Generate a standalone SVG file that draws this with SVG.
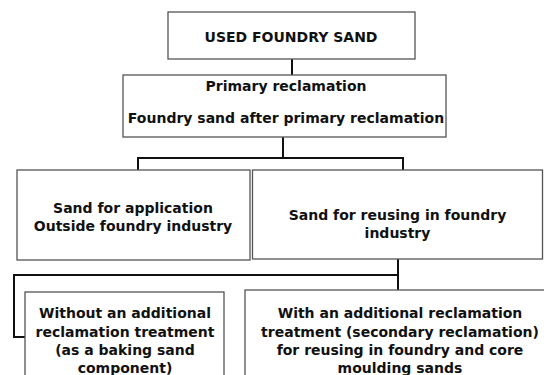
<svg xmlns="http://www.w3.org/2000/svg" width="544" height="375" viewBox="0 0 544 375">
<style>
.box{fill:#fff;stroke:#555;stroke-width:1.3}
.t{font-family:"DejaVu Sans",Verdana,sans-serif;font-weight:bold;font-size:14px;fill:#111;text-anchor:middle}
.c{fill:none;stroke:#111;stroke-width:2}
</style>
<rect width="544" height="375" fill="#fff"/>
<g id="connectors">
<path class="c" d="M292 59V75"/>
<path class="c" d="M283 137V158M138 170V158H403V170"/>
<path class="c" d="M398 259V290M398 275H14V337H25"/>
</g>
<g id="n1"><rect class="box" x="168" y="12" width="247" height="47"/><text class="t" x="291" y="42">USED FOUNDRY SAND</text></g>
<g id="n2"><rect class="box" x="123" y="75" width="323" height="62"/><text class="t" x="286" y="91">Primary reclamation</text><text class="t" x="286" y="123">Foundry sand after primary reclamation</text></g>
<g id="n3"><rect class="box" x="17" y="170" width="233" height="90"/><text class="t" x="133" y="213">Sand for application</text><text class="t" x="133" y="231">Outside foundry industry</text></g>
<g id="n4"><rect class="box" x="252.5" y="170" width="290" height="89"/><text class="t" x="397.5" y="220">Sand for reusing in foundry</text><text class="t" x="397.5" y="238">industry</text></g>
<g id="n5"><rect class="box" x="25" y="292" width="199" height="100"/><text class="t" x="125" y="318">Without an additional</text><text class="t" x="125" y="337">reclamation treatment</text><text class="t" x="125" y="355">(as a baking sand</text><text class="t" x="125" y="373">component)</text></g>
<g id="n6"><rect class="box" x="245" y="290" width="312" height="100"/><text class="t" x="400" y="318">With an additional reclamation</text><text class="t" x="400" y="337">treatment (secondary reclamation)</text><text class="t" x="400" y="355">for reusing in foundry and core</text><text class="t" x="400" y="373">moulding sands</text></g>
</svg>
